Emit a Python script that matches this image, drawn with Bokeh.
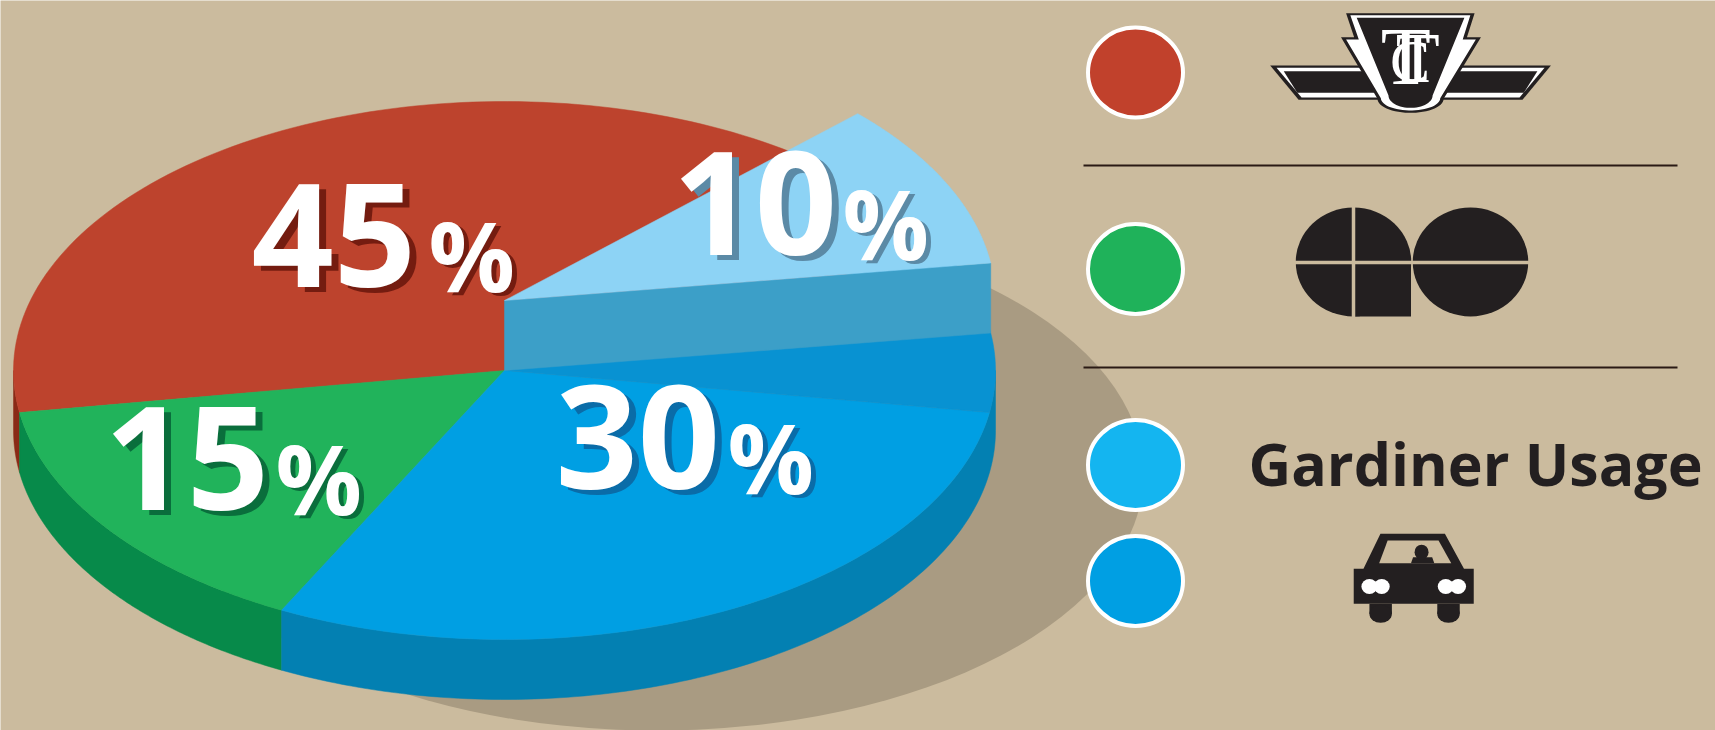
import numpy as np
from bokeh.core.properties import value
from bokeh.embed import file_html
from bokeh.models import Range1d
from bokeh.plotting import figure
from bokeh.resources import INLINE

# Modal split shown by the pie, in percent
labels = ["45", "10", "15", "30"]
shares = {"ttc": 45, "gardiner": 10, "go": 15, "car": 30}
legend_colors = ["#C1412C", "#1FB25A", "#14B5F0", "#009FE3"]
legend_names = ["TTC", "GO", "Gardiner Usage", "Car"]

BG = "#CBBB9E"
SHADOW = "#A99B82"
RED, RED_WALL = "#BD432D", "#8A2A16"
GREEN, GREEN_WALL = "#21B35B", "#078A4A"
BLUE, BLUE_WALL = "#009FE3", "#0380B2"
SKY, SKY_WALL, SEAT = "#8DD3F5", "#3C9FC8", "#0892D2"
INK = "#231F20"

# Pie projection
CX, CY, RX, RY = 504, 370, 491, 269
DEPTH = 60
LIFT = 70
GREEN_START = 189.0  # where the TTC slice ends, degrees counter-clockwise from east
SKY_START = 8.0      # the raised slice is turned a little against its seat
BASELINE_SHIFT = 0.38  # em offset of the renderer's alphabetic baseline


def sweep(share):
    return share * 3.6


def arc(a0, a1, cy=CY):
    t = np.radians(np.linspace(a0, a1, 120))
    return list(CX + RX * np.cos(t)), list(cy - RY * np.sin(t))


def sector(a0, a1, cy=CY):
    xs, ys = arc(a0, a1, cy)
    return [CX] + xs, [cy] + ys


def wall(a0, a1):
    xs, ys = arc(a0, a1)
    xb, yb = arc(a1, a0, CY + DEPTH)
    return xs + xb, ys + yb


p = figure(width=1715, height=730, output_backend="svg", toolbar_location=None,
           x_range=Range1d(0, 1715), y_range=Range1d(730, 0),
           min_border=0, outline_line_color=None,
           background_fill_color=BG, border_fill_color=BG)
p.axis.visible = False
p.grid.visible = False


def put_text(x, y, txt, size, color, font, style="bold", align="left"):
    p.text(x=[x], y=[y - BASELINE_SHIFT * size], text=[txt], text_font=font,
           text_font_style=style, text_font_size=f"{size}px", text_color=color,
           text_baseline="alphabetic", text_align=align)


# Ground shadow
p.ellipse(x=[656], y=[474], width=[974], height=[512], fill_color=SHADOW, line_color=None)

# Slice boundaries, all derived from the shares
red_a1 = GREEN_START
red_a0 = red_a1 - sweep(shares["ttc"])
green_a0, green_a1 = red_a1, red_a1 + sweep(shares["go"])
blue_a0, blue_a1 = green_a1, green_a1 + sweep(shares["car"])
seat_a0, seat_a1 = blue_a1, blue_a1 + sweep(shares["gardiner"])
sky_a0, sky_a1 = SKY_START, SKY_START + sweep(shares["gardiner"])

# Rim of the disc
for (a0, a1, color) in [(180, red_a1, RED_WALL), (green_a0, green_a1, GREEN_WALL), (blue_a0, 360, BLUE_WALL)]:
    xs, ys = wall(a0, a1)
    p.patch(xs, ys, fill_color=color, line_color=color, line_width=0.5)

# Top faces
for (a0, a1, color) in [(red_a0, red_a1, RED), (green_a0, green_a1, GREEN),
                        (blue_a0, blue_a1, BLUE), (seat_a0, seat_a1, SEAT)]:
    xs, ys = sector(a0, a1)
    p.patch(xs, ys, fill_color=color, line_color=color, line_width=0.5)

# Raised slice: cut face, then its top
edge_x = CX + RX * np.cos(np.radians(sky_a0))
edge_y = CY - RY * np.sin(np.radians(sky_a0))
p.patch([CX, edge_x, edge_x, CX], [CY, edge_y, edge_y - LIFT, CY - LIFT],
        fill_color=SKY_WALL, line_color=SKY_WALL, line_width=0.5)
xs, ys = sector(sky_a0, sky_a1, CY - LIFT)
p.patch(xs, ys, fill_color=SKY, line_color=SKY, line_width=0.5)

# Percent labels with a hard drop shadow
FONT = value("Open Sans")
label_x = [251, 672, 104, 555]
label_y = [290, 258, 513, 492]
pct_x = [428, 842, 275, 727]
label_shadow = ["#741C10", "#5B8AA6", "#0A6E3C", "#0A6CA8"]
for i, txt in enumerate(labels):
    for dx, dy, col in [(7, 5, label_shadow[i]), (0, 0, "#FFFFFF")]:
        put_text(label_x[i] + dx, label_y[i] + dy, txt, 144, col, FONT)
        put_text(pct_x[i] + dx * 0.7, label_y[i] + dy * 0.7, "%", 96, col, FONT)

# Legend swatches
swatch_y = [72, 268.5, 464.5, 580.5]
p.ellipse(x=[1135] * 4, y=swatch_y, width=[95] * 4, height=[90] * 4,
          fill_color=legend_colors, line_color="#FFFFFF", line_width=4)

# Separator rules
for y in (165, 367):
    p.line([1083, 1677], [y, y], line_color="#2A1A14", line_width=2)


# Emblems are laid out on their own grid, 2.358 units per pixel across, 3 down
def gx(v, x0=1050):
    return [x0 + a / 2.358 for a in v]


def gy(v, y0=0):
    return [y0 + a / 3 for a in v]


def emblem(xv, yv, color, y0=0):
    p.patch(gx(xv), gy(yv, y0), fill_color=color, line_color=None)


def mirrored(xv):
    return [1698 - a for a in xv]


# TTC emblem: wings
wing_layers = [
    ([518, 735, 782, 585], [195, 195, 298, 298], INK),
    ([533, 745, 775, 592], [202, 202, 291, 291], "#FFFFFF"),
    ([550, 745, 772, 582], [212, 212, 277, 277], INK),
]
for xv, yv, col in wing_layers:
    emblem(xv, yv, col)
    emblem(mirrored(xv), yv, col)


def bowl(half, y_side, y_low):
    t = np.radians(np.linspace(180, 360, 30))
    return list(849 + half * np.cos(t)), list(y_side - (y_low - y_side) * np.sin(t))


# TTC emblem: shield in three nested layers
bx, by = bowl(78, 295, 337)
emblem([697, 1000, 982, 1015, 927] + bx[::-1] + [685, 716],
       [38, 38, 110, 110, 295] + by[::-1] + [110, 110], INK)
bx, by = bowl(70, 293, 330)
emblem([707, 990, 972, 1003, 919] + bx[::-1] + [697, 727],
       [44, 44, 117, 117, 293] + by[::-1] + [117, 117], "#FFFFFF")
bx, by = bowl(52, 285, 322)
emblem([722, 976, 901] + bx[::-1], [52, 52, 285] + by[::-1], INK)

# TTC monogram
SERIF = value("Liberation Serif")
put_text(1050 + 838 / 2.358, 87, "T", 82, "#FFFFFF", SERIF, style="normal", align="center")
put_text(1050 + 866 / 2.358, 85, "T", 72, "#FFFFFF", SERIF, style="normal", align="center")
put_text(1050 + 848 / 2.358, 83, "C", 60, "#FFFFFF", SERIF, style="normal", align="center")

# GO emblem
p.ellipse(x=[1353, 1470], y=[261.5, 261.5], width=[115.5, 115.5], height=[109, 109],
          fill_color=INK, line_color=None)
p.quad(left=[1353], right=[1410.5], top=[261.5], bottom=[316], fill_color=INK, line_color=None)
p.line([1353, 1353], [205, 318], line_color=BG, line_width=3.5)
p.line([1292, 1530], [262, 262], line_color=BG, line_width=3.5)

# Gardiner caption
put_text(1248, 485, legend_names[2], 59, INK, FONT)

# Car pictogram
CAR_Y = 380
emblem([778, 930, 975, 998, 998, 715, 715, 738],
       [460, 460, 565, 565, 670, 670, 565, 565], INK, CAR_Y)
emblem([795, 915, 945, 775], [480, 480, 548, 548], BG, CAR_Y)
emblem([855, 900, 905, 850], [530, 530, 548, 548], INK, CAR_Y)
p.ellipse(x=gx([875]), y=gy([515], CAR_Y), width=[14], height=[15], fill_color=INK, line_color=None)
for left in (752, 912):
    emblem([left, left + 53, left + 53, left], [670, 670, 700, 700], INK, CAR_Y)
    p.ellipse(x=gx([left + 26.5]), y=gy([700], CAR_Y), width=[22.5], height=[18], fill_color=INK, line_color=None)
p.ellipse(x=gx([752, 781, 932, 961]), y=gy([618] * 4, CAR_Y), width=[16] * 4, height=[15] * 4,
          fill_color="#FFFFFF", line_color=None)

open("out.html", "w").write(file_html(p, INLINE))
